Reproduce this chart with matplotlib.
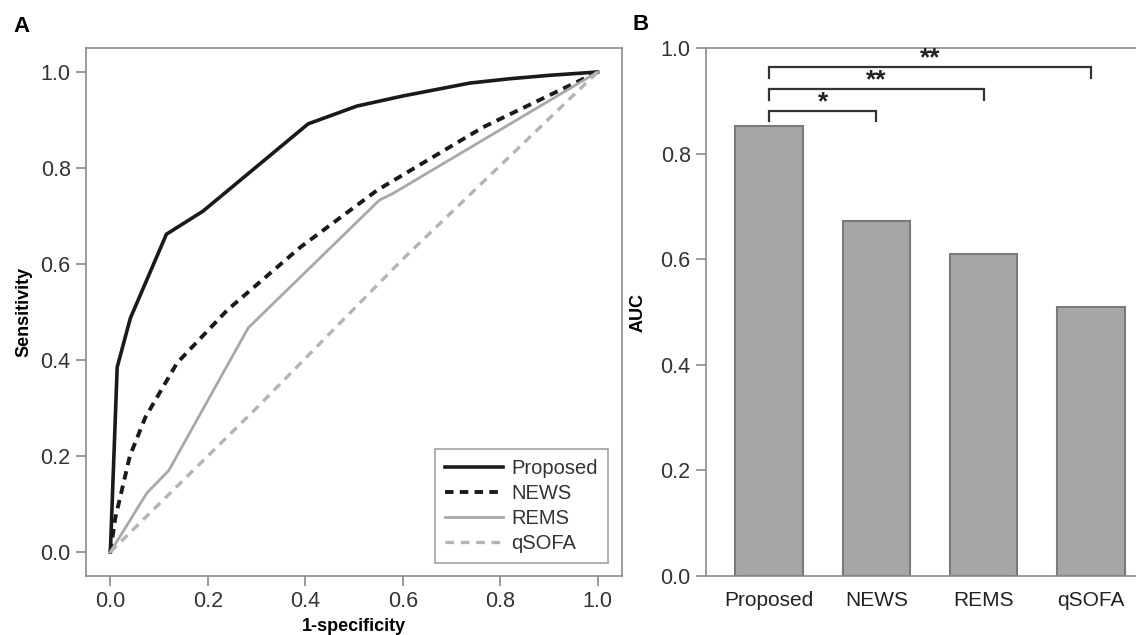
import matplotlib
matplotlib.use("Agg")
import matplotlib.pyplot as plt

plt.rcParams['font.family'] = ['Liberation Sans', 'DejaVu Sans']

# ROC curves (1-specificity, sensitivity)
proposed_x = [0.0, 0.014, 0.041, 0.115, 0.19, 0.406, 0.506, 0.60, 0.738, 0.82, 0.90, 1.0]
proposed_y = [0.0, 0.385, 0.487, 0.662, 0.71, 0.892, 0.929, 0.95, 0.977, 0.986, 0.993, 1.0]
news_x = [0.0, 0.01, 0.04, 0.072, 0.137, 0.24, 0.39, 0.548, 0.765, 1.0]
news_y = [0.0, 0.07, 0.20, 0.281, 0.394, 0.504, 0.635, 0.754, 0.885, 1.0]
rems_x = [0.0, 0.075, 0.12, 0.283, 0.552, 0.58, 1.0]
rems_y = [0.0, 0.123, 0.17, 0.467, 0.733, 0.747, 1.0]
qsofa_x = [0.0, 0.3, 0.6, 1.0]
qsofa_y = [0.0, 0.30, 0.61, 1.0]

# AUC bars
models = ['Proposed', 'NEWS', 'REMS', 'qSOFA']
auc = [0.852, 0.672, 0.610, 0.509]
# significance brackets: (target index, bracket height, stars)
brackets = [(1, 0.881, '*'), (2, 0.922, '**'), (3, 0.964, '**')]

axis_gray = '#8a8a8a'
text_col = '#333333'

fig = plt.figure(figsize=(11.36, 6.35), dpi=100)

# ---- Panel A ----
ax = fig.add_axes([0.0757, 0.0929, 0.4718, 0.8315])
ax.plot(proposed_x, proposed_y, color='#1a1a1a', lw=2.6, label='Proposed')
ax.plot(news_x, news_y, color='#1a1a1a', lw=2.8, ls=(0, (2.2, 1.6)), label='NEWS')
ax.plot(rems_x, rems_y, color='#a8a8a8', lw=2.0, label='REMS')
ax.plot(qsofa_x, qsofa_y, color='#b4b4b4', lw=2.4, ls=(0, (2.6, 2.0)), label='qSOFA')
ax.set_xlim(-0.05, 1.05)
ax.set_ylim(-0.05, 1.05)
ticks = [0.0, 0.2, 0.4, 0.6, 0.8, 1.0]
ax.set_xticks(ticks)
ax.set_yticks(ticks)
ax.set_xticklabels([f'{t:.1f}' for t in ticks])
ax.set_yticklabels([f'{t:.1f}' for t in ticks])
for s in ax.spines.values():
    s.set_color(axis_gray)
    s.set_linewidth(1.2)
ax.tick_params(direction='out', length=7, width=1.2, color=axis_gray,
               labelsize=15.5, labelcolor=text_col, pad=4)
ax.set_xlabel('1-specificity', fontsize=13, fontweight='bold', labelpad=4)
ax.set_ylabel('Sensitivity', fontsize=13, fontweight='bold', labelpad=6)
leg = ax.legend(loc='lower right', fontsize=14.5, frameon=True, fancybox=False,
                handlelength=2.9, handletextpad=0.4, borderpad=0.5,
                labelspacing=0.3, borderaxespad=0,
                bbox_to_anchor=(0.974, 0.025))
leg.get_frame().set_edgecolor(axis_gray)
leg.get_frame().set_linewidth(1.2)
for t in leg.get_texts():
    t.set_color(text_col)
fig.text(0.012, 0.958, 'A', fontsize=16, fontweight='bold', va='center')

# ---- Panel B ----
bx = fig.add_axes([0.6215, 0.0929, 0.3785, 0.8315])
pos = list(range(len(models)))
bx.bar(pos, auc, width=0.63, color='#a6a6a6', edgecolor='#7a7a7a', linewidth=1.5)
bx.set_xlim(-0.587, 3.42)
bx.set_ylim(0, 1.0)
bx.set_yticks(ticks)
bx.set_yticklabels([f'{t:.1f}' for t in ticks])
bx.set_xticks(pos)
bx.set_xticklabels(models)
bx.spines['right'].set_visible(False)
for s in ['left', 'top', 'bottom']:
    bx.spines[s].set_color(axis_gray)
    bx.spines[s].set_linewidth(1.2)
bx.tick_params(axis='y', direction='out', length=7, width=1.2, color=axis_gray,
               labelsize=15.5, labelcolor=text_col, pad=4)
bx.tick_params(axis='x', length=0, labelsize=15, labelcolor='#222222', pad=11)
bx.set_ylabel('AUC', fontsize=13, fontweight='bold', labelpad=10)
for j, h, stars in brackets:
    drop = 0.02
    bx.plot([0, 0, j, j], [h - drop, h, h, h - drop], color='#333333', lw=1.6,
            solid_joinstyle='miter', clip_on=False)
    bx.text(j / 2, h - 0.006, stars, ha='center', va='bottom', fontsize=19,
            fontweight='bold', color='#222222')
fig.text(0.557, 0.962, 'B', fontsize=16, fontweight='bold', va='center')

fig.savefig('out.png', dpi=100)
